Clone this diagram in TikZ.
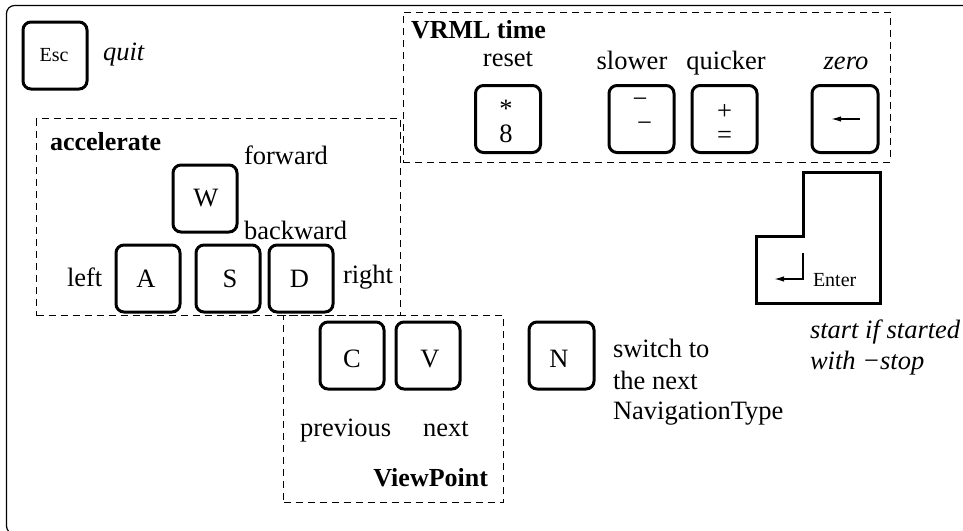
\documentclass[tikz,border=0pt]{standalone}
\usepackage{fontspec}
\setmainfont{Liberation Serif}
\usetikzlibrary{arrows.meta}
\tikzset{
  keybox/.style={draw=black,line width=3pt,rounded corners=8pt,inner sep=0pt,minimum width=#1,minimum height=67pt},
  keybox/.default=64pt,
  groupbox/.style={draw=black,line width=0.9pt,dash pattern=on 7pt off 5pt,inner sep=0pt},
  txt/.style={inner sep=0pt,outer sep=0pt,anchor=base west,font=\fontsize{26.5}{30}\selectfont},
  ctr/.style={txt,anchor=base},
  small/.style={font=\fontsize{20}{24}\selectfont},
  bf/.style={font=\fontsize{26}{30}\selectfont\bfseries},
  itl/.style={font=\fontsize{26.5}{30}\selectfont\itshape},
  head/.style={-{Latex[length=10pt,width=5.5pt]},line width=1.5pt},
}
\begin{document}
\begin{tikzpicture}[x=1pt,y=-1pt]
\useasboundingbox (0,0) rectangle (963,530);
\clip (0,0) rectangle (963,530);
\draw[line width=1.2pt,rounded corners=8pt] (6.5,5.5) rectangle (985,534);
% groups
\node[groupbox,minimum width=363.5pt,minimum height=197pt] (gacc) at (218.25,217) {};
\node[groupbox,minimum width=487pt,minimum height=150pt] (gvrml) at (646.5,87) {};
\node[groupbox,minimum width=220pt,minimum height=186.5pt] (gview) at (393.5,408.75) {};
% keys
\node[keybox] (kesc) at (55,55.5) {};
\node[keybox] (kw) at (205,198.5) {};
\node[keybox] (ka) at (148,278.5) {};
\node[keybox] (ks) at (228,278.5) {};
\node[keybox] (kd) at (301,278.5) {};
\node[keybox=65pt] (kstar) at (508,119) {};
\node[keybox=65pt] (kminus) at (641.5,119) {};
\node[keybox=65pt] (kplus) at (724.5,119) {};
\node[keybox=66pt] (kback) at (845,119) {};
\node[keybox] (kc) at (352,355.5) {};
\node[keybox] (kv) at (428,355.5) {};
\node[keybox=65pt] (kn) at (561.5,355.5) {};
% enter key
\draw[line width=3pt,miter limit=10] (756,236) -- (803,236) -- (803,172) -- (880,172) -- (880,303) -- (756,303) -- cycle;
% key glyphs
\node[ctr,small] (tesc) at (54,61) {Esc};
\node[ctr] (tw) at (206,206) {W};
\node[ctr] (ta) at (146,287) {A};
\node[ctr] (ts) at (230,287) {S};
\node[ctr] (td) at (299.5,287) {D};
\node[ctr] (tstar) at (506,117) {*};
\node[ctr] (t8) at (506,142) {8};
\node[ctr] (tm1) at (640,107) {−};
\node[ctr] (tm2) at (644.5,131) {−};
\node[ctr] (tplus) at (724.5,119) {+};
\node[ctr] (teq) at (724.5,143) {=};
\node[ctr] (tc) at (352,367) {C};
\node[ctr] (tv) at (430,367) {V};
\node[ctr] (tn) at (559,367) {N};
\node[txt,small] (tenter) at (813,286) {Enter};
% arrows
\coordinate (ba) at (860,119); \coordinate (bb) at (831,119);
\draw[head] (ba) -- (bb);
\coordinate (ea) at (803,253); \coordinate (eb) at (803,279); \coordinate (ec) at (774,279);
\draw[head] (ea) -- (eb) -- (ec);
% labels
\node[txt,itl] (lquit) at (103,60) {quit};
\node[txt,bf] (lacc) at (50,150) {accelerate};
\node[txt] (lfwd) at (244,164) {forward};
\node[txt] (lback) at (244,239) {backward};
\node[txt] (lleft) at (67,286) {left};
\node[txt] (lright) at (343,283) {right};
\node[txt,bf] (lvrml) at (411,38) {VRML time};
\node[ctr] (lreset) at (508,66) {reset};
\node[ctr] (lslow) at (632,69) {slower};
\node[ctr] (lquick) at (726,69) {quicker};
\node[ctr,itl] (lzero) at (846,69) {zero};
\node[txt,itl] (lstart) at (810,338) {start if started};
\node[txt,itl] (lwith) at (810,369) {with −stop};
\node[txt] (lprev) at (300,436) {previous};
\node[txt] (lnext) at (423,436) {next};
\node[txt,bf,anchor=base east] (lview) at (488,486) {ViewPoint};
\node[txt] (lsw) at (613,357) {switch to};
\node[txt] (lthe) at (613,389) {the next};
\node[txt] (lnav) at (613,419) {NavigationType};
\end{tikzpicture}
\end{document}
